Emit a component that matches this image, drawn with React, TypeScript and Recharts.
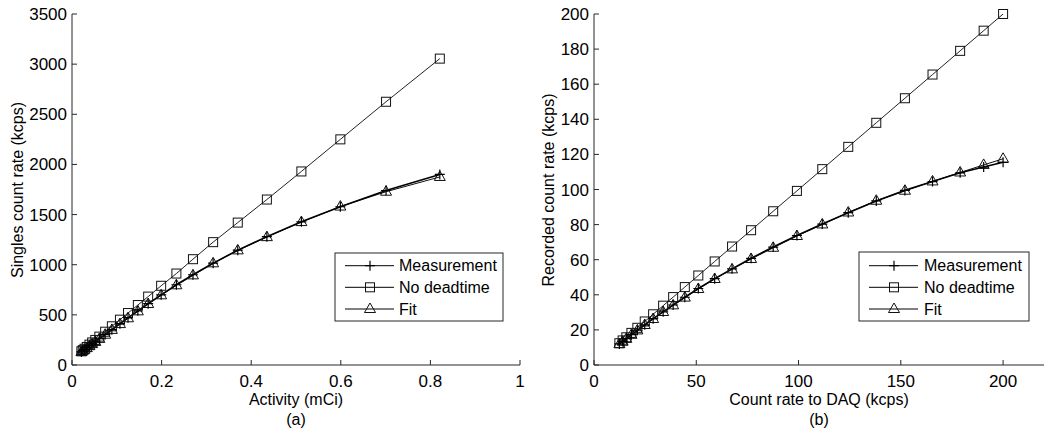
import React from 'react';
import { LineChart, Line, XAxis, YAxis } from 'recharts';

// ---- Panel (a) data ----
const activity = [0.821, 0.701, 0.599, 0.512, 0.435, 0.37, 0.315, 0.27, 0.233, 0.199, 0.17, 0.147, 0.125, 0.107, 0.089, 0.074, 0.061, 0.052, 0.045, 0.039, 0.033, 0.028, 0.024, 0.021];
const leftNoDeadtime = [3055, 2625, 2250, 1930, 1650, 1420, 1225, 1055, 912, 790, 682, 598, 518, 452, 386, 332, 283, 250, 225, 203, 180, 162, 148, 137];
const leftMeasurement = [1900, 1740, 1578, 1428, 1280, 1145, 1015, 900, 800, 700, 612, 540, 470, 412, 352, 305, 262, 232, 210, 190, 170, 153, 140, 130];
const leftFit = [1875, 1728, 1580, 1425, 1275, 1143, 1014, 894, 795, 695, 608, 535, 466, 408, 350, 302, 260, 230, 208, 188, 168, 152, 139, 129];
const leftXTicks = [0, 0.2, 0.4, 0.6, 0.8, 1];
const leftYTicks = [0, 500, 1000, 1500, 2000, 2500, 3000, 3500];

// ---- Panel (b) data ----
const daqRate = [200, 190.5, 179, 165.5, 152, 138, 124.3, 111.6, 99.2, 87.6, 76.8, 67.5, 59, 51, 44.4, 38.7, 33.8, 28.9, 24.8, 21.2, 18.3, 15.8, 14, 12.4];
const rightNoDeadtime = [200, 190.5, 179, 165.5, 152, 138, 124.3, 111.6, 99.2, 87.6, 76.8, 67.5, 59, 51, 44.4, 38.7, 33.8, 28.9, 24.8, 21.2, 18.3, 15.8, 14, 12.4];
const rightMeasurement = [115.5, 112.8, 109.5, 104.5, 99.5, 93.5, 86.8, 80.3, 73.8, 67.2, 60.8, 54.8, 49.2, 43.6, 38.6, 34.2, 30.3, 26.4, 22.9, 19.8, 17.3, 15.0, 13.4, 12.0];
const rightFit = [117.5, 114, 109.7, 104.6, 99.3, 93.6, 86.9, 80.1, 73.5, 66.8, 60.4, 54.5, 49.0, 43.3, 38.4, 34.0, 30.2, 26.2, 22.8, 19.7, 17.2, 14.9, 13.3, 11.9];
const rightXTicks = [0, 50, 100, 150, 200];
const rightYTicks = [0, 20, 40, 60, 80, 100, 120, 140, 160, 180, 200];

const seriesLabels = ['Measurement', 'No deadtime', 'Fit'];

const leftData = activity.map((x, i) => ({ x, meas: leftMeasurement[i], nd: leftNoDeadtime[i], fit: leftFit[i] }));
const rightData = daqRate.map((x, i) => ({ x, meas: rightMeasurement[i], nd: rightNoDeadtime[i], fit: rightFit[i] }));

const FONT = '"Liberation Sans", Arial, Helvetica, sans-serif';
const AX = '#262626';

type Kind = 'cross' | 'square' | 'triangle';

function Marker({ cx, cy, kind }: { cx: number; cy: number; kind: Kind }) {
  if (cx == null || cy == null || isNaN(cx) || isNaN(cy)) return null;
  if (kind === 'cross') {
    return <path d={`M${cx - 5},${cy}H${cx + 5}M${cx},${cy - 5}V${cy + 5}`} stroke="#000" strokeWidth={1.2} fill="none" />;
  }
  if (kind === 'square') {
    return <rect x={cx - 4.5} y={cy - 4.5} width={9} height={9} stroke="#111" strokeWidth={1} fill="none" />;
  }
  return <path d={`M${cx},${cy - 6}L${cx + 5.5},${cy + 3.5}L${cx - 5.5},${cy + 3.5}Z`} stroke="#111" strokeWidth={1} fill="none" />;
}

const makeDot = (kind: Kind) => (p: any) => <Marker key={`${kind}-${p.index}`} cx={p.cx} cy={p.cy} kind={kind} />;

const tickStyle = { fill: '#000', fontSize: 17, fontFamily: FONT };

function Panel({ left, width, marginRight, data, xDomain, xTicks, yDomain, yTicks }: any) {
  return (
    <div style={{ position: 'absolute', left, top: 0 }}>
      <LineChart width={width} height={431} data={data} margin={{ top: 14, right: marginRight, bottom: 0, left: 0 }}>
        <XAxis xAxisId="b" dataKey="x" type="number" domain={xDomain} ticks={xTicks} orientation="bottom" height={66}
          tickSize={-5} tickMargin={15} stroke={AX} tick={tickStyle} interval={0} />
        <XAxis xAxisId="t" dataKey="x" type="number" domain={xDomain} ticks={xTicks} orientation="top" height={0}
          tickSize={-5} tick={false} stroke={AX} interval={0} />
        <YAxis yAxisId="l" type="number" domain={yDomain} ticks={yTicks} orientation="left" width={72}
          tickSize={-5} tickMargin={10} stroke={AX} tick={tickStyle} interval={0} />
        <YAxis yAxisId="r" type="number" domain={yDomain} ticks={yTicks} orientation="right" width={0}
          tickSize={-5} tick={false} stroke={AX} interval={0} />
        <Line xAxisId="b" yAxisId="l" dataKey="nd" stroke="#222" strokeWidth={1} dot={makeDot('square')} isAnimationActive={false} />
        <Line xAxisId="b" yAxisId="l" dataKey="fit" stroke="#111" strokeWidth={1} dot={makeDot('triangle')} isAnimationActive={false} />
        <Line xAxisId="b" yAxisId="l" dataKey="meas" stroke="#000" strokeWidth={1.6} dot={makeDot('cross')} isAnimationActive={false} />
      </LineChart>
    </div>
  );
}

function LegendBox({ x, y, w, h, lx1, lx2, mx, tx, rowY }: any) {
  const kinds: Kind[] = ['cross', 'square', 'triangle'];
  return (
    <g>
      <rect x={x} y={y} width={w} height={h} fill="#fff" stroke={AX} strokeWidth={1} />
      {seriesLabels.map((lab, i) => (
        <g key={lab}>
          <line x1={lx1} x2={lx2} y1={rowY[i]} y2={rowY[i]} stroke="#000" strokeWidth={1} />
          <Marker cx={mx} cy={rowY[i]} kind={kinds[i]} />
          <text x={tx} y={rowY[i]} dominantBaseline="central" fontSize={16} fontFamily={FONT} fill="#000">{lab}</text>
        </g>
      ))}
    </g>
  );
}

export default function App() {
  const rows = [265.7, 287.3, 309];
  return (
    <div style={{ position: 'absolute', left: 0, top: 0, width: 1050, height: 431, background: '#fff', overflow: 'hidden' }}>
      <Panel left={0} width={530} marginRight={10} data={leftData} xDomain={[0, 1]} xTicks={leftXTicks} yDomain={[0, 3500]} yTicks={leftYTicks} />
      <Panel left={522} width={528} marginRight={6} data={rightData} xDomain={[0, 220]} xTicks={rightXTicks} yDomain={[0, 200]} yTicks={rightYTicks} />
      <svg width={1050} height={431} style={{ position: 'absolute', left: 0, top: 0, pointerEvents: 'none' }}>
        <text x={17} y={190} transform="rotate(-90 17 190)" textAnchor="middle" dominantBaseline="central" fontSize={16} fontFamily={FONT}>Singles count rate (kcps)</text>
        <text x={296} y={399} textAnchor="middle" dominantBaseline="central" fontSize={16} fontFamily={FONT}>Activity (mCi)</text>
        <text x={296} y={419} textAnchor="middle" dominantBaseline="central" fontSize={16} fontFamily={FONT}>(a)</text>
        <text x={548} y={190} transform="rotate(-90 548 190)" textAnchor="middle" dominantBaseline="central" fontSize={16} fontFamily={FONT}>Recorded count rate (kcps)</text>
        <text x={819} y={399} textAnchor="middle" dominantBaseline="central" fontSize={16} fontFamily={FONT}>Count rate to DAQ (kcps)</text>
        <text x={819} y={419} textAnchor="middle" dominantBaseline="central" fontSize={16} fontFamily={FONT}>(b)</text>
        <LegendBox x={335} y={253} w={168} h={68} lx1={345} lx2={394} mx={370} tx={399} rowY={rows} />
        <LegendBox x={859} y={252} w={170} h={69} lx1={869} lx2={918} mx={894} tx={924} rowY={rows} />
      </svg>
    </div>
  );
}
